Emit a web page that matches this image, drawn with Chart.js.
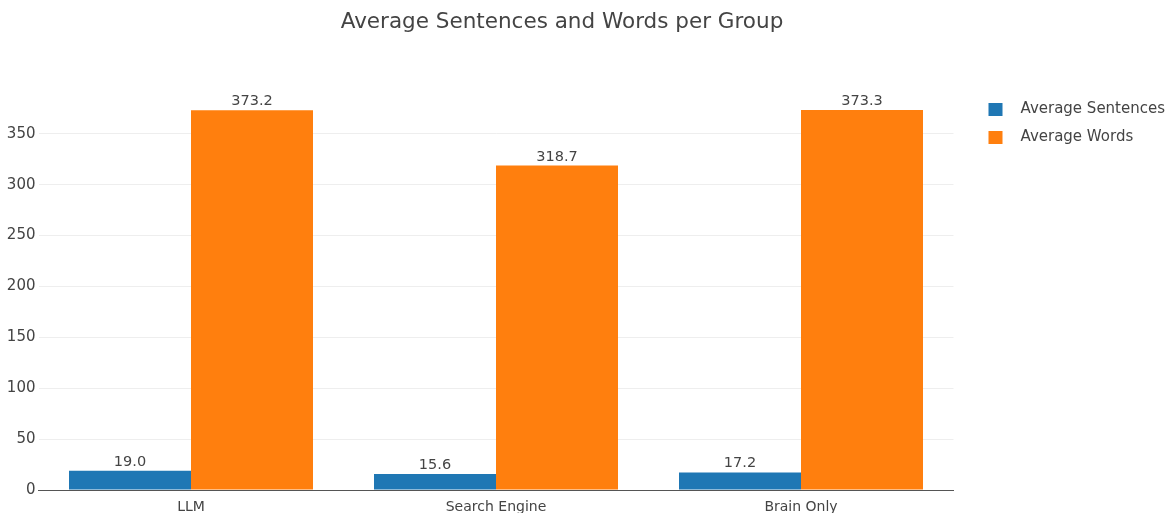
<!DOCTYPE html>
<html>
<head>
<meta charset="utf-8">
<script src="https://cdn.jsdelivr.net/npm/chart.js@4/dist/chart.umd.min.js"></script>
<style>
    body { margin: 0; background: #fff; }
    #wrap { position: relative; width: 1173px; height: 513px; }
    #titulo {
        position: absolute; top: 10px; left: 0; width: 1124px;
        text-align: center; line-height: 22px;
        font-family: "DejaVu Sans", Verdana, sans-serif; font-size: 21.5px; color: #444;
    }
</style>
</head>
<body>
<div id="wrap">
    <div id="titulo">Average Sentences and Words per Group</div>
    <canvas id="grafico-barras"></canvas>
</div>
<script>
// dados do grafico
const GRUPOS = ['LLM', 'Search Engine', 'Brain Only'];
const MEDIA_FRASES = [19.0, 15.6, 17.2];
const MEDIA_PALAVRAS = [373.2, 318.7, 373.3];
const NOMES_SERIES = ['Average Sentences', 'Average Words'];
const TICKS_Y = [0, 50, 100, 150, 200, 250, 300, 350];

const FONTE = '"DejaVu Sans", Verdana, sans-serif';
const COR_TEXTO = '#444';

// escreve o valor em cima de cada barra
const rotulosBarras = {
    id: 'rotulosBarras',
    afterDatasetsDraw(chart) {
        const ctx = chart.ctx;
        ctx.save();
        ctx.font = '14.5px ' + FONTE;
        ctx.fillStyle = COR_TEXTO;
        ctx.textAlign = 'center';
        ctx.textBaseline = 'alphabetic';
        chart.data.datasets.forEach(function(ds, i) {
            chart.getDatasetMeta(i).data.forEach(function(barra, j) {
                ctx.fillText(ds.data[j].toFixed(1), barra.x, barra.y - 5);
            });
        });
        ctx.restore();
    }
};

// legenda desenhada a mao (estilo plotly)
const legendaLateral = {
    id: 'legendaLateral',
    afterDraw(chart) {
        const ctx = chart.ctx;
        const x0 = chart.chartArea.right + 35;
        let y0 = 103;
        ctx.save();
        ctx.font = '15px ' + FONTE;
        ctx.textBaseline = 'middle';
        ctx.textAlign = 'left';
        chart.data.datasets.forEach(function(ds) {
            ctx.fillStyle = ds.backgroundColor;
            ctx.fillRect(x0, y0, 14, 13);
            ctx.fillStyle = COR_TEXTO;
            ctx.fillText(ds.label, x0 + 32, y0 + 6.5);
            y0 += 28;
        });
        ctx.restore();
    }
};

new Chart(document.getElementById('grafico-barras'), {
    type: 'bar',
    data: {
        labels: GRUPOS,
        datasets: [
            {
                label: NOMES_SERIES[0],
                data: MEDIA_FRASES,
                backgroundColor: '#1f77b4',
                categoryPercentage: 0.8,
                barPercentage: 1.0
            },
            {
                label: NOMES_SERIES[1],
                data: MEDIA_PALAVRAS,
                backgroundColor: '#ff7f0e',
                categoryPercentage: 0.8,
                barPercentage: 1.0
            }
        ]
    },
    options: {
        responsive: true,
        maintainAspectRatio: false,
        animation: false,
        layout: { padding: { top: 90, left: 0, right: 219.5, bottom: 0 } },
        plugins: {
            legend: { display: false },
            title: { display: false },
            tooltip: { enabled: false }
        },
        scales: {
            x: {
                grid: { display: false, drawTicks: false },
                border: { display: true, color: '#555', width: 1 },
                ticks: { color: COR_TEXTO, font: { family: FONTE, size: 14 }, padding: 9 },
                afterFit: function(s) { s.height = 23; }
            },
            y: {
                min: 0,
                max: 393,
                grid: {
                    drawTicks: false,
                    color: function(c) { return c.tick && c.tick.value === 0 ? 'rgba(0,0,0,0)' : '#eeeeee'; }
                },
                border: { display: false },
                ticks: { color: COR_TEXTO, font: { family: FONTE, size: 15 }, padding: 3, stepSize: 50 },
                afterBuildTicks: function(s) {
                    s.ticks = TICKS_Y.map(function(v) { return { value: v }; });
                },
                afterFit: function(s) { s.width = 38.5; }
            }
        }
    },
    plugins: [rotulosBarras, legendaLateral]
});
</script>
</body>
</html>
